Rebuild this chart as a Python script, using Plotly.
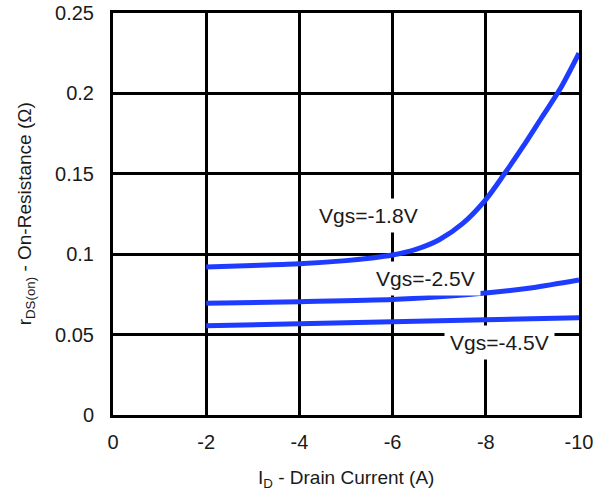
import plotly.graph_objects as go

# Drain current (A) and on-resistance (ohm) for each gate voltage
id_18 = [-2, -3, -4, -5, -5.5, -6, -6.5, -7, -7.5, -8, -8.4, -8.8, -9.2, -9.6, -10]
r_18 = [0.092, 0.093, 0.094, 0.096, 0.0975, 0.0995, 0.103, 0.109, 0.119, 0.134, 0.150, 0.167, 0.185, 0.203, 0.225]

id_25 = [-2, -4, -6, -7, -8, -9, -10]
r_25 = [0.0695, 0.0705, 0.0718, 0.0735, 0.0758, 0.0792, 0.0840]

id_45 = [-2, -4, -6, -8, -10]
r_45 = [0.0555, 0.0568, 0.0580, 0.0592, 0.0605]

labels = ["Vgs=-1.8V", "Vgs=-2.5V", "Vgs=-4.5V"]
label_x = [-5.48, -6.70, -8.30]
label_y = [0.1238, 0.0852, 0.0448]

x_ticks = [0, -2, -4, -6, -8, -10]
y_ticks = [0, 0.05, 0.1, 0.15, 0.2, 0.25]
y_ticktext = ["0", "0.05", "0.1", "0.15", "0.2", "0.25"]

FONT = "Liberation Sans, Arial, sans-serif"
BLUE = "#1e3cff"

fig = go.Figure()
for xs, ys in [(id_18, r_18), (id_25, r_25), (id_45, r_45)]:
    fig.add_trace(go.Scatter(
        x=xs, y=ys, mode="lines",
        line=dict(color=BLUE, width=5, shape="spline", smoothing=0.8),
        showlegend=False, hoverinfo="skip",
    ))

for text, lx, ly in zip(labels, label_x, label_y):
    fig.add_annotation(
        x=lx, y=ly, text=text, showarrow=False,
        font=dict(family=FONT, size=21, color="#1a1a1a"),
        bgcolor="white", borderpad=5,
        xanchor="center", yanchor="middle",
    )

# Axis titles
fig.add_annotation(
    xref="paper", yref="paper", x=0.5, y=-0.158,
    text="I<sub>D</sub> - Drain Current (A)", showarrow=False,
    font=dict(family=FONT, size=19, color="#1a1a1a"),
    xanchor="center", yanchor="middle",
)
fig.add_annotation(
    xref="paper", yref="paper", x=-0.186, y=0.5,
    text="r<sub>DS(on)</sub> - On-Resistance (\u03a9)", showarrow=False,
    textangle=-90,
    font=dict(family=FONT, size=19, color="#1a1a1a"),
    xanchor="center", yanchor="middle",
)

axis_common = dict(
    showgrid=True, gridcolor="black", gridwidth=2.5,
    showline=True, linecolor="black", linewidth=3, mirror=True,
    zeroline=False, ticks="",
    tickfont=dict(family=FONT, size=20, color="#1a1a1a"),
)

fig.update_xaxes(
    range=[0, -10], tickvals=x_ticks, ticktext=[str(v) for v in x_ticks],
    ticklabelstandoff=7, **axis_common,
)
fig.update_yaxes(
    range=[0, 0.25], tickvals=y_ticks, ticktext=y_ticktext,
    ticklabelstandoff=12, **axis_common,
)

fig.update_layout(
    width=606, height=499,
    margin=dict(l=113, r=27, t=13, b=84, autoexpand=False),
    paper_bgcolor="white", plot_bgcolor="white",
)

fig.write_html("out.html")
